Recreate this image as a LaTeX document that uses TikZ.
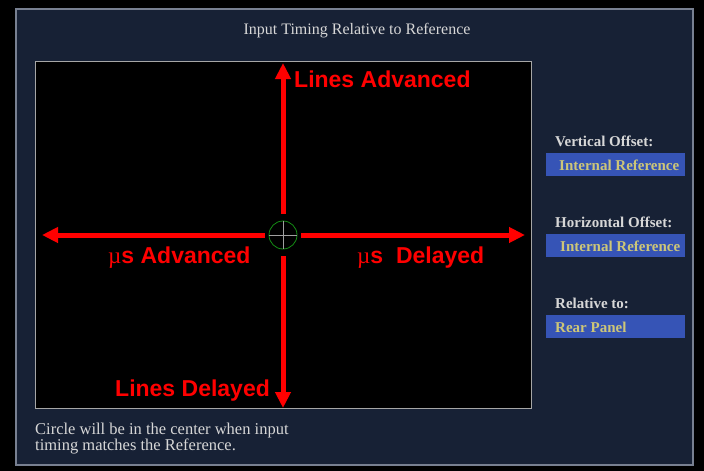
\documentclass[tikz,border=0pt]{standalone}
\usepackage{fontspec}
\setmainfont{Liberation Serif}
\newfontfamily\arialfont{Liberation Sans}
\usetikzlibrary{arrows.meta}
\definecolor{panelblue}{RGB}{23,33,53}
\definecolor{panelrim}{RGB}{120,128,145}
\definecolor{boxblue}{RGB}{54,84,182}
\definecolor{boxtext}{RGB}{205,198,120}
\definecolor{softgray}{RGB}{215,215,215}
\definecolor{ringgreen}{RGB}{20,140,20}
\newcommand{\mus}{{\rmfamily\mdseries µ}s}
\begin{document}
\begin{tikzpicture}[x=1pt,y=-1pt,
	redarrow/.style={draw=red,line width=5pt,-{Triangle[length=16pt,width=15pt]}},
	redlabel/.style={text=red,font=\arialfont\bfseries\fontsize{23}{25}\selectfont,inner sep=0pt,anchor=base west},
	sidelabel/.style={text=softgray,font=\bfseries\fontsize{15}{17}\selectfont,inner sep=0pt,anchor=base west},
	boxlabel/.style={text=boxtext,font=\bfseries\fontsize{15}{17}\selectfont,inner sep=0pt,anchor=base west},
	notelabel/.style={text=softgray,font=\fontsize{16.5}{13}\selectfont,inner sep=0pt,align=left,anchor=north west},
	valuebox/.style={fill=boxblue,minimum width=139pt,minimum height=23pt,inner sep=0pt,anchor=north west}]
				\useasboundingbox (0,0) rectangle (704,471);
				\fill[black] (0,0) rectangle (704,471);
				\draw[fill=panelblue,draw=panelrim,line width=1.2pt] (16,9) rectangle (693,465);
				\draw[fill=black,draw=gray!70,line width=1pt] (35,61) rectangle (531,408);
				
				\node[text=softgray,font=\fontsize{16}{18}\selectfont,inner sep=0pt] (title) at (357,31) {Input Timing Relative to Reference};
				
				\node[circle,draw=ringgreen,line width=0.8pt,minimum size=28pt,inner sep=0pt] (O) at (283,235) {};
				\draw[gray!75,line width=0.8pt] (O.west) -- (O.east);
				\draw[gray!75,line width=0.8pt] (O.north) -- (O.south);
				\coordinate (T) at (283,63);
				\coordinate (B) at (283,408);
				\coordinate (L) at (42,235);
				\coordinate (R) at (525,235);
				\draw[redarrow,shorten <=7pt] (O) -- (T);
				\draw[redarrow,shorten <=7pt] (O) -- (B);
				\draw[redarrow,shorten <=4pt] (O) -- (L);
				\draw[redarrow,shorten <=4pt] (O) -- (R);
				
				\node[redlabel] (LA) at (294,87) {Lines Advanced};
				\node[redlabel] (LD) at (115,396) {Lines Delayed};
				\node[redlabel] (UA) at (108,263) {\mus\ Advanced};
				\node[redlabel] (UD) at (357,263) {\mus\ \ Delayed};
				
				\node[sidelabel] (V) at (555,146) {Vertical Offset:};
				\node[valuebox] (VB) at (546,153) {};
				\node[boxlabel] (VT) at (559,170) {Internal Reference};
				\node[sidelabel] (H) at (555,227) {Horizontal Offset:};
				\node[valuebox] (HB) at (546,234) {};
				\node[boxlabel] (HT) at (560,251) {Internal Reference};
				\node[sidelabel] (P) at (555,308) {Relative to:};
				\node[valuebox] (PB) at (546,315) {};
				\node[boxlabel] (PT) at (555,332) {Rear Panel};
				
				\node[notelabel] (N) at (35,423) {Circle will be in the center when input\\timing matches the Reference.};
\end{tikzpicture}
\end{document}
